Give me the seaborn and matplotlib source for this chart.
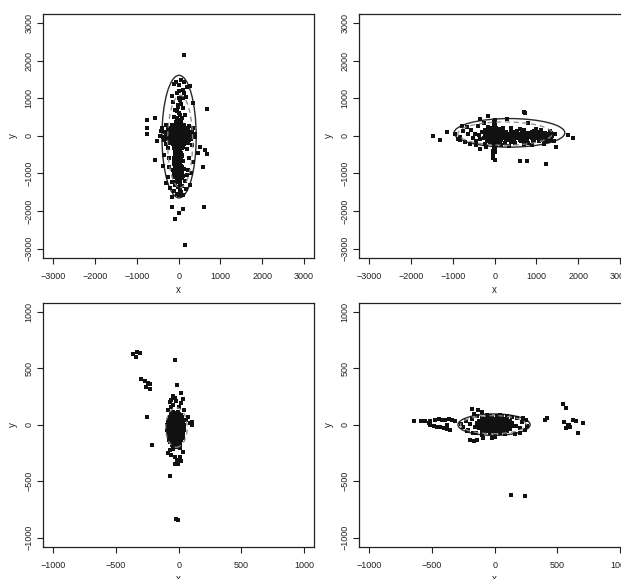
import matplotlib
matplotlib.use("Agg")
from matplotlib import pyplot as plt
from matplotlib.patches import Ellipse
import pandas as pd
import seaborn as sns

# ---- data (x, y) ----
p1_pts = [
    # outliers
    (130, 2150), (150, -2900), (-80, -2200), (20, -2050), (100, -1950), (-150, -1900),
    (600, -1880), (680, 720), (680, -480), (590, -820), (-760, 420), (-760, 200),
    (-760, 60), (-560, 470), (-560, -640), (500, -300), (460, -460), (-530, -150), (620, -370),
    # upper part of the ellipse
    (60, 1480), (10, 1350), (100, 1220), (-50, 1130), (20, 1000), (-130, 910), (60, 860),
    (180, 1040), (-90, 690), (20, 600), (100, 730), (-40, 470), (60, 380), (270, 1330),
    (120, 1440), (-120, 1380), (110, 1000), (340, 880), (-30, 650), (40, 550), (-60, 380),
    (0, 1200), (-20, 820), (30, 950), (-170, 1050), (150, 560), (-100, 500), (80, 470),
    (200, 1300), (-60, 1420), (140, 1150), (-10, 780), (-20, 350), (30, 420),
    # centre
    (-300, 300), (-150, 290), (-60, 310), (0, 280), (50, 320), (120, 300), (250, 270),
    (-400, 200), (-250, 210), (-180, 190), (-100, 220), (-40, 200), (0, 230), (40, 190),
    (90, 210), (160, 200), (230, 180), (350, 220),
    (-420, 120), (-330, 90), (-260, 110), (-200, 80), (-150, 120), (-100, 90), (-60, 110),
    (-20, 80), (20, 120), (60, 90), (100, 110), (150, 80), (200, 120), (260, 90), (330, 100), (400, 60),
    (-450, 0), (-380, -20), (-310, 30), (-250, -10), (-200, 20), (-160, -30), (-120, 10),
    (-80, -20), (-40, 30), (0, -10), (40, 20), (80, -30), (120, 10), (170, -20), (220, 30),
    (280, -10), (340, 20), (390, -40),
    (-350, -120), (-280, -90), (-220, -110), (-170, -80), (-120, -130), (-80, -90), (-40, -110),
    (0, -80), (40, -120), (80, -100), (130, -90), (180, -130), (240, -100), (300, -80),
    (-300, -220), (-200, -190), (-130, -210), (-70, -180), (-20, -230), (30, -200), (80, -190),
    (140, -220), (220, -180), (330, -250),
    (-250, -320), (-120, -290), (-50, -310), (0, -280), (50, -330), (110, -300), (200, -340),
    (-130, 190), (-70, 185), (-10, 195), (50, 190), (110, 185),
    (-150, 125), (-90, 130), (-30, 125), (30, 120), (90, 130), (150, 125),
    (-140, 60), (-80, 55), (-20, 60), (40, 65), (100, 60),
    (-150, -5), (-90, 0), (-30, -5), (30, -10), (90, 0), (150, -5),
    (-130, -70), (-70, -65), (-10, -70), (50, -75), (110, -70),
    (-140, -135), (-80, -140), (-20, -135), (40, -130), (100, -140),
    (-120, -200), (-60, -205), (0, -200), (60, -195),
    (-100, -265), (-40, -260), (20, -270), (80, -265),
    (-110, -330), (-50, -335), (10, -325), (70, -330),
    (-80, -395), (-20, -400), (40, -390),
    # lower column
    (-40, -400), (30, -430), (-90, -470), (80, -500), (0, -520), (-60, -560), (50, -600),
    (-20, -640), (100, -680), (-100, -700), (20, -720), (-40, -760), (60, -800), (-80, -830),
    (10, -860), (120, -880), (-130, -900), (-30, -930), (50, -960), (-70, -1000), (30, -1020),
    (100, -1060), (-10, -1080), (-120, -1100), (70, -1120), (-50, -1150), (0, -1190),
    (150, -1200), (-160, -1230), (40, -1260), (-80, -1300), (90, -1330), (-20, -1370),
    (-200, -1380), (170, -1400), (30, -1430), (-110, -1470), (60, -1500), (-40, -1540),
    (10, -1580), (-150, -1620), (110, -1560), (-250, -1100), (220, -900), (-240, -820),
    (250, -600), (-230, -600), (200, -1050), (300, -1000), (-350, -500), (-380, -800),
    (350, -700), (-300, -1250), (280, -1300),
    (-90, -460), (-20, -455), (50, -465), (-60, -530), (10, -535), (80, -525),
    (-100, -600), (-30, -605), (40, -595), (-70, -670), (0, -665), (70, -675),
    (-110, -740), (-40, -745), (30, -735), (-60, -810), (10, -805), (80, -815),
    (-90, -880), (-20, -875), (50, -885), (-50, -950), (20, -945), (90, -955),
    (-110, -1020), (-40, -1025), (30, -1015), (-70, -1090), (0, -1085), (60, -1095),
    (-30, -1160), (40, -1165), (-80, -1230), (10, -1225),
]

p2_pts = [
    # outliers
    (-1480, 0), (-1300, -100), (-1150, 100), (-950, 50), (-780, 260), (-820, -110),
    (700, 640), (730, 600), (600, -680), (780, -660), (1240, -760), (1880, -70),
    (1760, 20), (1460, -290), (-150, 520), (-360, 440), (290, 450), (800, 330),
    (-50, -510), (-30, -580), (10, -630), (-360, -360),
    # vertical spike at x = 0
    (0, 420), (-20, 380), (20, 340), (-10, 300), (10, 260), (30, 220), (-30, 200),
    (0, -350), (-10, -300), (20, -260), (-30, -400), (10, -420),
    # core
    (-300, 100), (-250, -50), (-220, 150), (-200, 0), (-180, -150), (-150, 80), (-130, -80),
    (-110, 200), (-100, 20), (-80, -40), (-60, 120), (-50, -180), (-40, 60), (-20, -100),
    (0, 0), (10, 150), (20, -60), (40, 90), (50, -150), (70, 30), (80, -90), (100, 180),
    (110, -20), (130, 60), (150, -120), (170, 120), (190, -40), (220, 20), (240, -180),
    (260, 100), (280, -80), (-70, 60), (-10, 40), (30, 10), (60, -10), (-40, -20), (90, 40),
    (-120, -10), (120, 0), (-60, -100), (60, 100), (0, -130), (0, 110), (-90, 170),
    (80, -200), (-160, 230), (200, 200), (-240, -220), (150, -250), (-20, 230), (40, -250),
    (-120, 180), (-60, 185), (0, 175), (60, 180), (120, 185),
    (-180, 120), (-120, 115), (-60, 125), (0, 120), (60, 115), (120, 125), (180, 120),
    (-200, 60), (-140, 55), (-80, 65), (-20, 60), (40, 55), (100, 65), (160, 60), (220, 55),
    (-220, 0), (-160, 5), (-100, -5), (-40, 0), (20, 5), (80, -5), (140, 0), (200, 5), (260, 0),
    (-200, -60), (-140, -55), (-80, -65), (-20, -60), (40, -55), (100, -65), (160, -60), (220, -55),
    (-160, -120), (-100, -115), (-40, -125), (20, -120), (80, -115), (140, -125),
    (-100, -180), (-40, -175), (20, -185), (80, -180),
    # band to the right
    (320, 30), (350, -120), (380, 100), (420, -40), (450, 60), (480, -180), (500, 10),
    (530, 120), (560, -60), (590, 40), (620, -150), (650, 80), (680, -20), (710, 150),
    (740, -100), (770, 30), (800, -200), (830, 70), (860, -40), (890, 110), (920, -130),
    (950, 20), (980, -60), (1010, 90), (1040, -20), (1070, -150), (1100, 40), (1130, -80),
    (1160, 60), (1190, -30), (1220, -120), (1260, 20), (1300, -60), (1340, 70), (1380, -10),
    (1420, -130), (1440, 40), (600, 170), (700, -230), (900, -240), (1000, 180), (400, 200),
    (340, -280), (1180, -230), (1120, 150), (450, -60), (550, -20), (650, -80), (750, -40),
    (850, 0), (950, -100),
    (300, -100), (360, -40), (410, 20), (470, -100), (520, 80), (580, -40), (630, 20),
    (690, -100), (740, 80), (800, -40), (860, 20), (910, -100), (970, 80), (1030, -40),
    (1080, 20), (1140, -100), (1200, 80), (1250, -40), (1310, 20), (1360, -100), (330, 60),
    (390, -160), (440, 110), (500, -70), (560, 50), (610, -120), (670, 130), (720, -10),
    (780, -120), (840, 50), (890, -70), (940, 130), (1000, 0), (1060, -110), (1110, 100),
    (1170, -50), (1230, 50), (1280, -150), (1330, 120), (1390, 60),
    # left inside the ellipse
    (-880, -80), (-820, -20), (-760, 120), (-700, -160), (-640, 40), (-600, -220),
    (-560, 150), (-520, -60), (-480, 60), (-440, -140), (-400, 250), (-380, 20),
    (-340, -90), (-450, -250), (-650, 240), (-250, 330), (-200, -300),
]

p3_pts = [
    # points far from the cluster
    (-363, 625), (-336, 646), (-310, 637), (-342, 602),
    (-297, 402), (-270, 389), (-244, 372), (-225, 360), (-257, 336), (-225, 319),
    (-249, 71), (-209, -180), (-26, 573), (-10, 351), (-72, -451), (-18, -837), (-8, -845),
    # above the cluster
    (21, 283), (-45, 254), (-58, 219), (-72, 204), (-18, 212), (21, 189), (-45, 174),
    (2, 154), (61, 42), (87, 12), (109, 27), (109, -3), (74, 71), (-30, 240), (35, 230),
    (-60, 160), (40, 130), (-85, 130),
    # below the cluster
    (-72, -224), (-58, -268), (-32, -289), (8, -289), (-13, -312), (21, -319), (-32, -351),
    (-5, -348), (-85, -253), (34, -239), (10, -210), (-45, -215),
    # dense cluster
    (-42, 112), (-22, 108), (-3, 114),
    (-62, 88), (-41, 92), (-20, 87), (0, 91), (16, 89),
    (-71, 67), (-50, 70), (-31, 65), (-12, 69), (8, 66), (26, 70),
    (-79, 44), (-58, 47), (-38, 43), (-18, 46), (2, 44), (22, 47), (39, 43),
    (-86, 21), (-66, 24), (-45, 20), (-25, 23), (-5, 21), (15, 24), (35, 20),
    (-89, 0), (-68, 2), (-48, -2), (-28, 1), (-8, -1), (12, 2), (32, -2), (46, 1),
    (-91, -21), (-70, -23), (-50, -20), (-30, -24), (-10, -21), (10, -23), (30, -20), (46, -22),
    (-90, -44), (-71, -46), (-50, -43), (-30, -47), (-10, -44), (10, -46), (30, -43), (43, -45),
    (-88, -67), (-68, -69), (-48, -66), (-28, -70), (-8, -67), (12, -69), (32, -66),
    (-85, -89), (-65, -92), (-45, -88), (-25, -91), (-5, -90), (15, -92), (33, -89),
    (-80, -112), (-60, -110), (-40, -114), (-20, -111), (0, -113), (20, -110), (31, -114),
    (-75, -134), (-55, -137), (-35, -133), (-15, -136), (5, -134), (22, -137),
    (-66, -157), (-45, -159), (-25, -156), (-5, -160), (14, -157),
    (-50, -179), (-30, -182), (-10, -178), (8, -181),
    (-36, -198), (-16, -196),
    (-60, 100), (-30, 98), (-10, 78), (-58, 30), (-36, 10), (-18, -10), (-60, -10),
    (20, -32), (-40, -56), (-20, -78), (-54, -100), (4, -124), (-40, -146), (-20, -168),
]

p4_pts = [
    # thin trail on the left
    (-644, 35), (-591, 35), (-552, 35), (-512, 33), (-472, 42), (-446, 48), (-419, 44),
    (-393, 42), (-367, 48), (-340, 39), (-313, 35),
    (-525, 12), (-512, -3), (-486, -12), (-459, -18), (-433, -23), (-406, -32), (-379, -41),
    (-353, -47), (-379, -3),
    # group on the right
    (546, 181), (567, 145), (401, 42), (419, 62), (552, 27), (586, -3), (599, -23),
    (573, -27), (625, 42), (652, 33), (705, 18), (665, -71), (594, -3),
    # far below
    (131, -619), (242, -631),
    # above and below the cluster
    (-181, 136), (-129, 130), (-102, 110), (-168, 95),
    (-194, -135), (-168, -142), (-141, -135), (-89, -120), (-22, -120), (4, -106),
    # inside the ellipse, around the cluster
    (-250, -20), (-230, 30), (-210, -50), (-200, 10), (-180, 50), (-170, -70), (-160, -20),
    (180, 60), (200, -30), (220, 20), (240, -50), (250, 40), (200, -70), (160, -80),
    (-140, 80), (-60, 90), (40, 90), (100, 80), (-100, -90), (0, -95), (80, -85), (140, 70),
    (170, -10), (-270, 10), (260, -10), (-220, -60), (230, 55), (-150, -75), (-40, 80),
    # dense cluster
    (-100, 56), (-78, 54), (-58, 57), (-38, 55), (-18, 58), (2, 54), (22, 57), (42, 55),
    (62, 58), (82, 54), (102, 56),
    (-125, 33), (-104, 35), (-83, 31), (-62, 34), (-42, 32), (-21, 35), (0, 31), (21, 34),
    (42, 32), (63, 35), (84, 31), (105, 34), (126, 32),
    (-138, 11), (-117, 13), (-96, 9), (-75, 12), (-54, 10), (-33, 13), (-12, 9), (9, 12),
    (30, 10), (51, 13), (72, 9), (93, 12), (114, 10), (135, 13),
    (-140, -11), (-119, -9), (-98, -13), (-77, -10), (-56, -12), (-35, -9), (-14, -13),
    (7, -10), (28, -12), (49, -9), (70, -13), (91, -10), (112, -12), (133, -9), (150, -11),
    (-128, -33), (-107, -31), (-86, -35), (-65, -32), (-44, -34), (-23, -31), (-2, -35),
    (19, -32), (40, -34), (61, -31), (82, -35), (103, -32), (124, -34),
    (-100, -55), (-80, -57), (-60, -54), (-40, -58), (-20, -55), (0, -57), (20, -54),
    (40, -58), (60, -55), (80, -57), (100, -54),
    (-60, 75), (-20, 72), (20, 76), (60, 73), (-40, -75), (0, -72), (40, -76),
]

# ellipses: centre x, centre y, semi-axis x, semi-axis y, angle
solid_ell = [(10, -20, 410, 1630, 0.0), (355, 80, 1325, 380, 0.0),
             (-22, -35, 60, 140, 0.0), (-5, 0, 288, 95, 0.0)]
dashed_ell = [(35, -150, 300, 1230, 0.0), (250, 60, 1130, 310, 0.0),
              (-18, -25, 86, 175, 0.0), (-10, 0, 262, 80, 0.0)]

lims = [3240, 3240, 1080, 1080]
ticks = [[-3000, -2000, -1000, 0, 1000, 2000, 3000],
         [-3000, -2000, -1000, 0, 1000, 2000, 3000],
         [-1000, -500, 0, 500, 1000],
         [-1000, -500, 0, 500, 1000]]
panels = [p1_pts, p2_pts, p3_pts, p4_pts]

sns.set_theme(style="ticks")
plt.rcParams['font.family'] = ['Liberation Sans', 'DejaVu Sans']

W, H = 621, 579
fig = plt.figure(figsize=(W / 100, H / 100), dpi=100)
# axes boxes in pixels: left, top, right, bottom
boxes = [(43.3, 14, 314, 257.7), (359.3, 14, 630, 257.7),
         (43.3, 302.7, 314, 546.7), (359.3, 302.7, 630, 546.7)]

for i in range(4):
    l, t, r, b = boxes[i]
    ax = fig.add_axes([l / W, 1 - b / H, (r - l) / W, (b - t) / H])
    df = pd.DataFrame(panels[i], columns=['x', 'y'])
    cx, cy, a, bb, ang = solid_ell[i]
    ax.add_patch(Ellipse((cx, cy), 2 * a, 2 * bb, angle=ang, fill=False,
                         edgecolor='#2a2a2a', linewidth=1.0, zorder=1))
    sns.scatterplot(data=df, x='x', y='y', ax=ax, marker='s', s=5.5, color='#111111',
                    linewidth=0, legend=False, zorder=2)
    cx, cy, a, bb, ang = dashed_ell[i]
    ax.add_patch(Ellipse((cx, cy), 2 * a, 2 * bb, angle=ang, fill=False,
                         edgecolor='#8a8a8a', linewidth=0.9, linestyle=(0, (4, 3)), zorder=3))
    ax.set_xlim(-lims[i], lims[i])
    ax.set_ylim(-lims[i], lims[i])
    ax.set_xticks(ticks[i])
    ax.set_yticks(ticks[i])
    ax.tick_params(axis='both', direction='out', length=4.3, width=0.8, color='#222222',
                   labelsize=6.5, labelcolor='#222222')
    ax.tick_params(axis='x', pad=6)
    ax.tick_params(axis='y', pad=3, labelrotation=90)
    for lab in ax.get_yticklabels():
        lab.set_va('center')
    for sp in ax.spines.values():
        sp.set_visible(True)
        sp.set_linewidth(0.9)
        sp.set_color('#222222')
    ax.set_xlabel('x', fontsize=7, color='#222222', va='center')
    ax.set_ylabel('y', fontsize=7, color='#222222', va='center')
    ax.xaxis.set_label_coords(0.5, -32 / (b - t))
    ax.yaxis.set_label_coords(-30 / (r - l), 0.5)

fig.savefig('out.png', dpi=100)
